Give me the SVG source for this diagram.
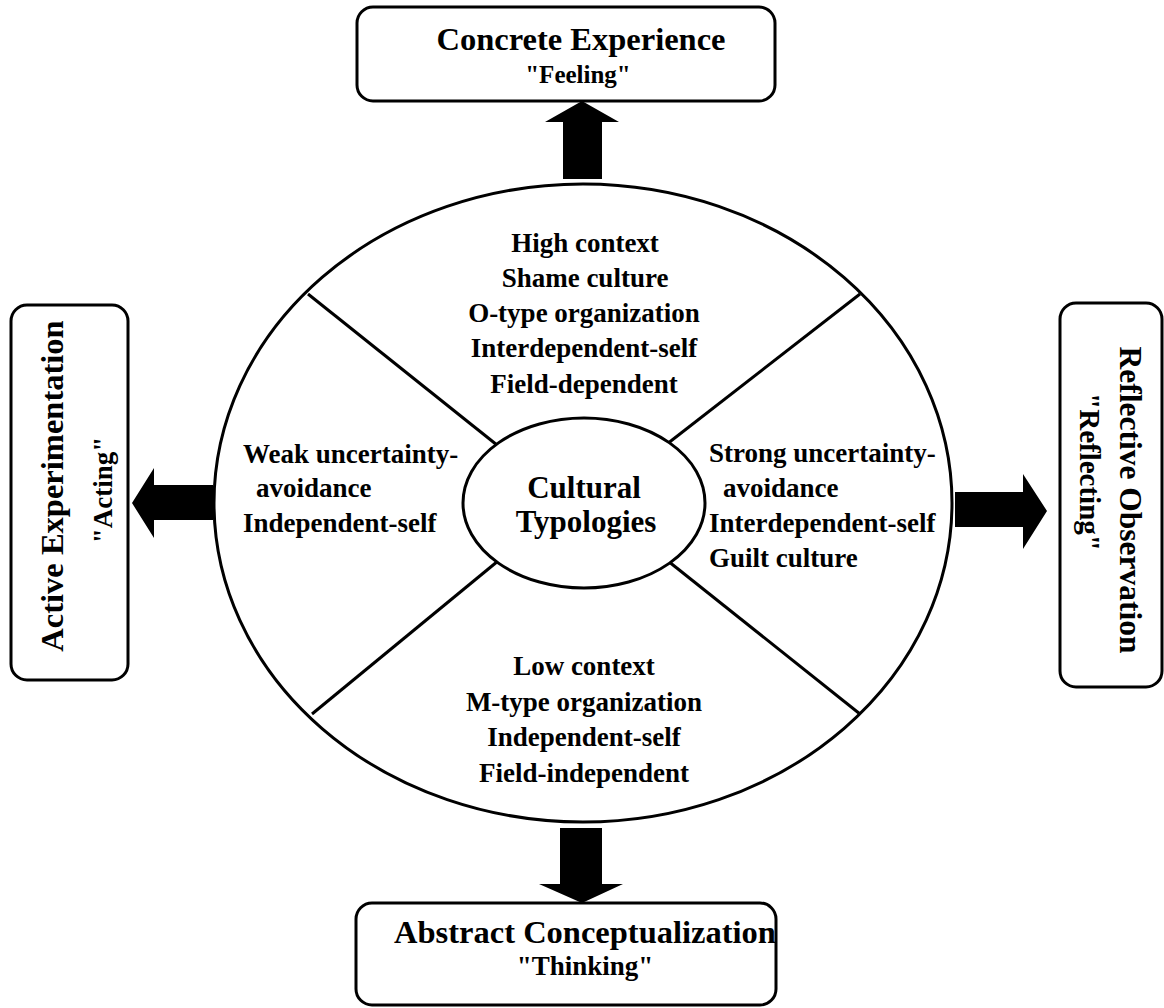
<svg xmlns="http://www.w3.org/2000/svg" width="1164" height="1008" viewBox="0 0 1164 1008">
<style>
.box{fill:#fff;stroke:#000;stroke-width:3}
.ln{fill:none;stroke:#000;stroke-width:3}
.arr{fill:#000;stroke:none}
text{font-family:"Liberation Serif","Times New Roman",serif;font-weight:bold;fill:#000}
.t1{font-size:32.5px;text-anchor:middle}
.t2{font-size:25px;text-anchor:middle}
.s{font-size:27px}
.c{text-anchor:middle}
.ctr{font-size:31px;text-anchor:middle}
</style>
<rect width="1164" height="1008" fill="#fff"/>
<g id="cycle">
<ellipse class="ln" cx="583" cy="503" rx="369" ry="319"/>
</g>
<g id="connectors">
<line class="ln" x1="308" y1="294" x2="497" y2="445"/>
<line class="ln" x1="860" y1="294" x2="667" y2="444"/>
<line class="ln" x1="498" y1="561" x2="312" y2="714"/>
<line class="ln" x1="668" y1="561" x2="860" y2="714"/>
<polygon class="arr" points="563,179 602,179 602,122 619,122 582,101 545,122 563,122"/>
<polygon class="arr" points="560,828 602,828 602,884 623,884 582,903 539,884 560,884"/>
<polygon class="arr" points="213,485 213,520 154,520 154,538 132,503 154,468 154,485"/>
<polygon class="arr" points="955,492 955,527 1023,527 1023,549 1047,511 1023,474 1023,492"/>
</g>
<g id="center">
<ellipse class="ln" cx="584" cy="503" rx="121" ry="85" style="fill:#fff"/>
<text class="ctr" x="584" y="498">Cultural</text>
<text class="ctr" x="586" y="532">Typologies</text>
</g>
<g id="top-sector">
<text class="s c" x="585" y="252">High context</text>
<text class="s c" x="585" y="287">Shame culture</text>
<text class="s c" x="584" y="322">O-type organization</text>
<text class="s c" x="584" y="357">Interdependent-self</text>
<text class="s c" x="584" y="393">Field-dependent</text>
</g>
<g id="left-sector">
<text class="s" x="243" y="463">Weak uncertainty-</text>
<text class="s" x="256" y="497">avoidance</text>
<text class="s" x="243" y="532">Independent-self</text>
</g>
<g id="right-sector">
<text class="s" x="709" y="462">Strong uncertainty-</text>
<text class="s" x="723" y="497">avoidance</text>
<text class="s" x="709" y="532">Interdependent-self</text>
<text class="s" x="709" y="567">Guilt culture</text>
</g>
<g id="bottom-sector">
<text class="s c" x="584" y="675">Low context</text>
<text class="s c" x="584" y="711">M-type organization</text>
<text class="s c" x="584" y="746">Independent-self</text>
<text class="s c" x="584" y="782">Field-independent</text>
</g>
<g id="concrete-experience">
<rect class="box" x="357" y="7" width="418" height="94" rx="16"/>
<text class="t1" x="581" y="50">Concrete Experience</text>
<text class="t2" x="578" y="83">"Feeling"</text>
</g>
<g id="abstract-conceptualization">
<rect class="box" x="356" y="903" width="420" height="102" rx="16"/>
<text class="t1" x="585" y="943">Abstract Conceptualization</text>
<text class="t2" x="585" y="975" style="font-size:27px">"Thinking"</text>
</g>
<g id="active-experimentation">
<rect class="box" x="11" y="305" width="117" height="375" rx="16"/>
<text class="t1" transform="translate(63,486) rotate(-90)" x="0" y="0">Active Experimentation</text>
<text class="t2" transform="translate(112,490) rotate(-90)" x="0" y="0" style="font-size:27px">"Acting"</text>
</g>
<g id="reflective-observation">
<rect class="box" x="1060" y="303" width="102" height="384" rx="16"/>
<text class="t1" transform="translate(1120,500) rotate(90)" x="0" y="0" style="font-size:31.5px">Reflective Observation</text>
<text class="t2" transform="translate(1080,472) rotate(90)" x="0" y="0" style="font-size:29px">"Reflecting"</text>
</g>
</svg>
